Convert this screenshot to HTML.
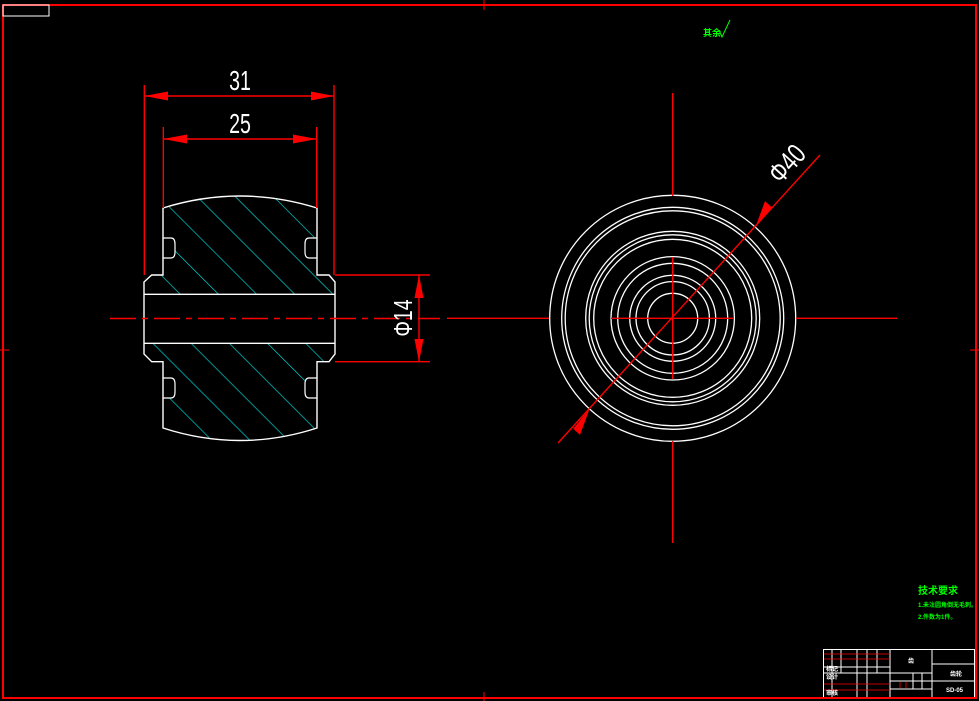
<!DOCTYPE html>
<html><head><meta charset="utf-8"><style>
html,body{margin:0;padding:0;background:#000;width:979px;height:701px;overflow:hidden}
svg{display:block}
text{font-family:"Liberation Sans","Noto Sans CJK SC",sans-serif}
</style></head><body>
<svg width="979" height="701" viewBox="0 0 979 701" xmlns="http://www.w3.org/2000/svg">
<defs>
<pattern id="h" width="27" height="27" patternUnits="userSpaceOnUse" patternTransform="rotate(-45)">
<line x1="0" y1="0" x2="0" y2="27" stroke="#00d0d0" stroke-width="1.4"/>
</pattern>
</defs>
<!-- border -->
<rect x="3" y="5" width="973" height="693" fill="none" stroke="#f00" stroke-width="2"/>
<rect x="3" y="5" width="46" height="11" fill="none" stroke="#fff" stroke-width="1"/>
<line x1="484" y1="0" x2="484" y2="10" stroke="#f00"/>
<line x1="484" y1="692" x2="484" y2="701" stroke="#f00"/>
<line x1="0" y1="350" x2="9" y2="350" stroke="#f00"/>
<line x1="970" y1="350" x2="979" y2="350" stroke="#f00"/>

<!-- left view: section hatch -->
<path d="M163,208 Q240,184 317,208 L317,275 L329,275 L335,282 L335,294 L144,294 L144,282 L151.7,275 L163,275 Z" fill="url(#h)"/>
<path d="M144,343 L335,343 L335,354 L329,361.7 L317,361.7 L317,428 Q240,453 163,428 L163,361.7 L151.7,361.7 L144,354 Z" fill="url(#h)"/>
<g fill="#000" stroke="#fff" stroke-width="1.2">
<path d="M163,238 h8 q4,0 4,6 v8 q0,6 -4,6 h-8"/>
<path d="M317,238 h-8 q-4,0 -4,6 v8 q0,6 4,6 h8"/>
<path d="M163,378 h8 q4,0 4,6 v8 q0,6 -4,6 h-8"/>
<path d="M317,378 h-8 q-4,0 -4,6 v8 q0,6 4,6 h8"/>
</g>
<g fill="none" stroke="#fff" stroke-width="1.4">
<path d="M163,208 Q240,184 317,208 L317,275 L329,275 L335,282 L335,354 L329,361.7 L317,361.7 L317,428 Q240,453 163,428 L163,361.7 L151.7,361.7 L144,354 L144,282 L151.7,275 L163,275 Z"/>
<line x1="144" y1="294.3" x2="335" y2="294.3"/>
<line x1="144" y1="343.3" x2="335" y2="343.3"/>
</g>
<line x1="110" y1="318.5" x2="440" y2="318.5" stroke="#f00" stroke-width="1.4" stroke-dasharray="26,6,6,6"/>
<!-- dims -->
<g stroke="#f00" stroke-width="1.4" fill="#f00">
<line x1="144.3" y1="85" x2="144.3" y2="275"/>
<line x1="334" y1="85" x2="334" y2="275"/>
<line x1="144.3" y1="96" x2="334" y2="96"/>
<polygon points="144.3,96 168,91.5 168,100.5" stroke="none"/>
<polygon points="334,96 311,91.5 311,100.5" stroke="none"/>
<line x1="163.3" y1="127" x2="163.3" y2="208"/>
<line x1="316.7" y1="127" x2="316.7" y2="208"/>
<line x1="163.3" y1="139" x2="316.7" y2="139"/>
<polygon points="163.3,139 187,134.5 187,143.5" stroke="none"/>
<polygon points="316.7,139 293,134.5 293,143.5" stroke="none"/>
<line x1="335" y1="275" x2="430" y2="275"/>
<line x1="335" y1="361.7" x2="430" y2="361.7"/>
<line x1="419" y1="275" x2="419" y2="361.7"/>
<polygon points="419,275 414.5,298 423.5,298" stroke="none"/>
<polygon points="419,361.7 414.5,339 423.5,339" stroke="none"/>
</g>
<text transform="translate(240,90) scale(0.7,1)" fill="#fff" font-size="28" text-anchor="middle">31</text>
<text transform="translate(240,133) scale(0.7,1)" fill="#fff" font-size="28" text-anchor="middle">25</text>
<text transform="translate(412,318) rotate(-90) scale(0.75,1)" fill="#fff" font-size="26" text-anchor="middle">Φ14</text>

<!-- right view -->
<g fill="none" stroke="#fff" stroke-width="1.3">
<circle cx="672.7" cy="318.3" r="123"/>
<circle cx="672.7" cy="318.3" r="111"/>
<circle cx="672.7" cy="318.3" r="107.5"/>
<circle cx="672.7" cy="318.3" r="87"/>
<circle cx="672.7" cy="318.3" r="83.5"/>
<circle cx="672.7" cy="318.3" r="79"/>
<circle cx="672.7" cy="318.3" r="61.7"/>
<circle cx="672.7" cy="318.3" r="55"/>
<circle cx="672.7" cy="318.3" r="43"/>
<circle cx="672.7" cy="318.3" r="36.7"/>
<circle cx="672.7" cy="318.3" r="25"/>
</g>
<g stroke="#f00" stroke-width="1.4">
<line x1="672.7" y1="93" x2="672.7" y2="196"/>
<line x1="672.7" y1="257" x2="672.7" y2="379"/>
<line x1="672.7" y1="441" x2="672.7" y2="543"/>
<line x1="447" y1="318.3" x2="549" y2="318.3"/>
<line x1="611" y1="318.3" x2="733" y2="318.3"/>
<line x1="796" y1="318.3" x2="897" y2="318.3"/>
<line x1="558" y1="443" x2="820" y2="155"/>
</g>
<g fill="#f00">
<polygon points="589.5,409 573.2,428.8 580.0,434.9"/>
<polygon points="755.5,227 771.8,207.2 765.0,201.1"/>
</g>
<text transform="translate(794,170) rotate(-48) scale(0.75,1)" fill="#fff" font-size="28" text-anchor="middle">Φ40</text>

<!-- green notes -->
<text x="703" y="36" fill="#0f0" font-size="9" font-weight="bold">其余</text>
<path d="M719,30 l3,7 l8,-17" fill="none" stroke="#0f0" stroke-width="1"/>
<text x="918" y="594" fill="#0f0" font-size="10" font-weight="bold">技术要求</text>
<text x="918" y="607" fill="#0f0" font-size="6" font-weight="bold">1.未注圆角倒无毛刺。</text>
<text x="918" y="619" fill="#0f0" font-size="6" font-weight="bold">2.件数为1件。</text>

<!-- title block -->
<g stroke="#fff" stroke-width="1" fill="none">
<rect x="823.5" y="649.5" width="151" height="48"/>
<line x1="890" y1="649.5" x2="890" y2="697.5"/>
<line x1="932" y1="649.5" x2="932" y2="697.5"/>
<line x1="932" y1="664" x2="975" y2="664"/>
<line x1="932" y1="681" x2="975" y2="681"/>
<line x1="823.5" y1="667" x2="890" y2="667"/>
<line x1="823.5" y1="673" x2="890" y2="673"/>
<line x1="890" y1="673" x2="932" y2="673"/>
<line x1="890" y1="681" x2="932" y2="681"/>
<line x1="890" y1="689" x2="932" y2="689"/>
<line x1="832" y1="649.5" x2="832" y2="697.5"/>
<line x1="841" y1="649.5" x2="841" y2="673"/>
<line x1="857" y1="649.5" x2="857" y2="697.5"/>
<line x1="867" y1="649.5" x2="867" y2="697.5"/>
<line x1="877" y1="649.5" x2="877" y2="673"/>
<line x1="913" y1="673" x2="913" y2="689"/>
<line x1="922" y1="673" x2="922" y2="689"/>
</g>
<g stroke="#f00" stroke-width="0.8">
<line x1="824" y1="654" x2="890" y2="654"/>
<line x1="824" y1="659" x2="890" y2="659"/>
<line x1="824" y1="684" x2="890" y2="684"/>
<line x1="824" y1="690" x2="890" y2="690"/>
<line x1="900" y1="682" x2="900" y2="688"/>
<line x1="906" y1="682" x2="906" y2="688"/>
</g>
<g fill="#fff" font-size="6" font-weight="bold">
<text x="908" y="663">齿</text>
<text x="950" y="676">齿轮</text>
<text x="946" y="692">SD-05</text>
<text x="826" y="671">标记</text>
<text x="826" y="679">设计</text>
<text x="826" y="695">审核</text>
</g>
<line x1="3" y1="698" x2="976" y2="698" stroke="#f00" stroke-width="2"/>
</svg>
</body></html>
